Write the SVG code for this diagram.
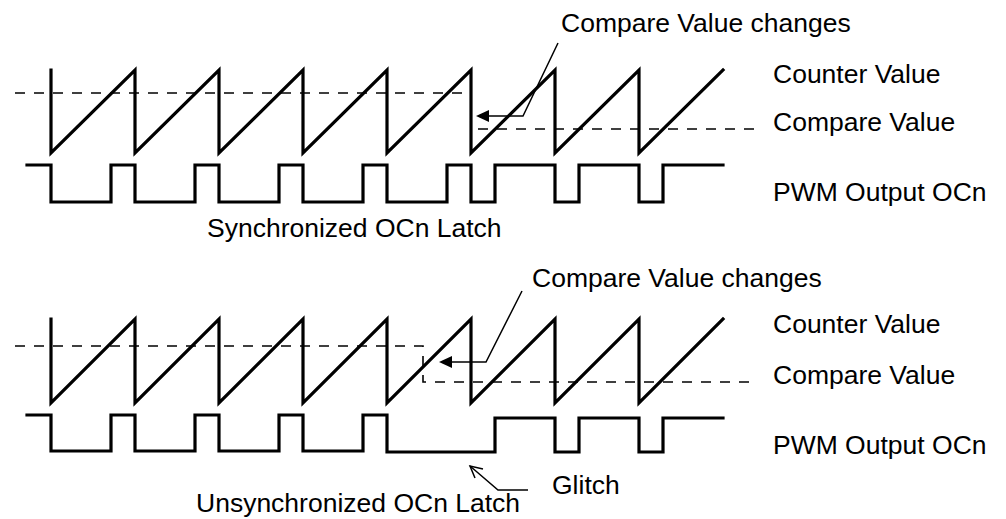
<svg xmlns="http://www.w3.org/2000/svg" width="1006" height="519" viewBox="0 0 1006 519">
<style>
  text { font-family: "Liberation Sans", Arial, sans-serif; font-size: 26.5px; fill: #000; }
  .wave { fill: none; stroke: #000; stroke-width: 3.2; stroke-linejoin: miter; stroke-linecap: square; }
  .dash { fill: none; stroke: #000; stroke-width: 1.6; stroke-dasharray: 10 9; }
  .lead { fill: none; stroke: #000; stroke-width: 1.5; }
  .head { fill: #000; stroke: none; }
</style>
<rect width="1006" height="519" fill="#fff"/>

<g id="top-panel">
  <g id="top-counter">
    <path class="wave" d="M51,70 V153 L135,70 V153 L219,70 V153 L303,70 V153 L387,70 V153 L471,70 V153 L555,70 V153 L639,70 V153 L723,70"/>
  </g>
  <g id="top-compare">
    <path class="dash" d="M15,93 H467"/>
    <path class="dash" d="M478,129 H757"/>
  </g>
  <g id="top-pwm">
    <path class="wave" d="M27,165 H51 V202 H111 V165 H135 V202 H195 V165 H219 V202 H279 V165 H303 V202 H363 V165 H387 V202 H447 V165 H471 V202 H495 V165 H555 V202 H579 V165 H639 V202 H663 V165 H723"/>
  </g>
  <g id="top-labels">
    <text x="561" y="32">Compare Value changes</text>
    <text x="773" y="83">Counter Value</text>
    <text x="773" y="131">Compare Value</text>
    <text x="773" y="201">PWM Output OCn</text>
    <text x="207" y="237">Synchronized OCn Latch</text>
  </g>
</g>

<g id="bottom-panel">
  <g id="bottom-counter">
    <path class="wave" d="M51,319 V403 L135,319 V403 L219,319 V403 L303,319 V403 L387,319 V403 L471,319 V403 L555,319 V403 L639,319 V403 L723,319"/>
  </g>
  <g id="bottom-compare">
    <path class="dash" d="M15,346 H423 V382 H757"/>
  </g>
  <g id="bottom-pwm">
    <path class="wave" d="M27,415 H51 V451 H111 V415 H135 V451 H195 V415 H219 V451 H279 V415 H303 V451 H363 V415 H387 V452 H495 V418 H555 V452 H579 V418 H639 V452 H663 V418 H723"/>
  </g>
  <g id="bottom-labels">
    <text x="532" y="287">Compare Value changes</text>
    <text x="773" y="333">Counter Value</text>
    <text x="773" y="384">Compare Value</text>
    <text x="773" y="454">PWM Output OCn</text>
    <text x="552" y="494">Glitch</text>
    <text x="196" y="512">Unsynchronized OCn Latch</text>
  </g>
</g>

<g id="connectors">
  <polyline class="lead" points="558,43 523,116 486,116"/>
  <polygon class="head" points="476,116 489,110 489,122"/>
  <polyline class="lead" points="522,291 486,362 449,362"/>
  <polygon class="head" points="439,362 452,356 452,368"/>
  <polyline class="lead" points="528,490 498,490 470,466"/>
  <polyline class="lead" points="483,469 470,466 475,478"/>
</g>
</svg>
